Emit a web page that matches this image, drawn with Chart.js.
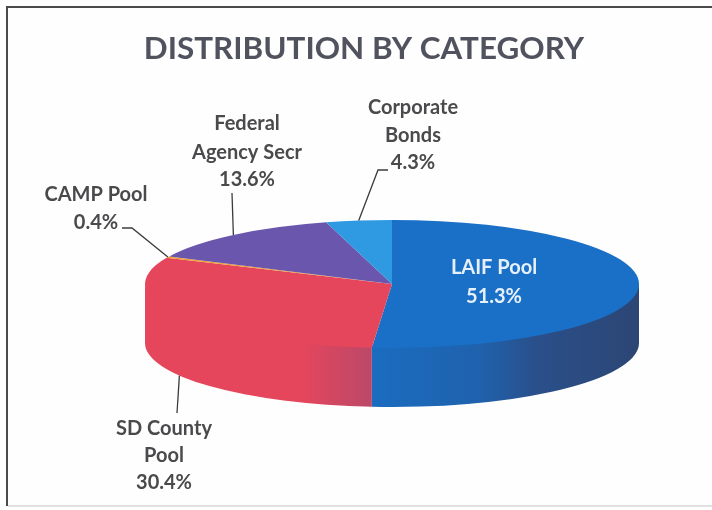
<!DOCTYPE html>
<html>
<head>
<meta charset="utf-8">
<title>Distribution by category</title>
<script src="https://cdn.jsdelivr.net/npm/chart.js@4"></script>
<style>
  html, body { margin: 0; padding: 0; background: #fff; }
  canvas { display: block; }
</style>
</head>
<body>
<canvas id="pie-chart" width="712" height="510"></canvas>
<script>
const categories = ["LAIF Pool", "SD County Pool", "CAMP Pool", "Federal Agency Secr", "Corporate Bonds"];
const shares = [51.3, 30.4, 0.4, 13.6, 4.3];
const sliceColors = ["#1a6fc6", "#e6465c", "#f0a22e", "#6b56ae", "#2f9ae2"];

// where the flattened pie sits on the page
const pie = { cx: 392, cy: 284, rx: 247, ry: 64, depth: 59 };

// label text blocks; y = page y of each text line, leader = bend points from the label to the slice
const labels = [
    { lines: ["LAIF Pool", "51.3%"], x: 494, y: [268, 297], color: "#e6f0fa" },
    { lines: ["SD County", "Pool", "30.4%"], x: 164, y: [429, 456, 483], leader: [[177, 413]], front: true },
    { lines: ["CAMP Pool", "0.4%"], x: 96, y: [195, 223], leader: [[122, 228], [132, 228]] },
    { lines: ["Federal", "Agency Secr", "13.6%"], x: 247, y: [124, 153, 180], leader: [[232, 193]] },
    { lines: ["Corporate", "Bonds", "4.3%"], x: 413, y: [108, 136, 163], leader: [[388, 170], [378, 170]] }
];

const sideStops = [
    [[0, "#1a6cc0"], [0.4, "#1f62ad"], [0.62, "#2a4f8a"], [1, "#2c4674"]],
    [[0, "#e6465c"], [0.68, "#e6465c"], [1, "#bb4868"]]
];

const pie3d = {
    id: 'pie3d',
    beforeDraw(chart) {
        const ctx = chart.ctx;
        ctx.save();
        ctx.fillStyle = '#fefefe';
        ctx.fillRect(0, 0, 712, 510);
        // frame of the scanned chart
        ctx.strokeStyle = '#4a4a4a';
        ctx.lineWidth = 2;
        ctx.beginPath();
        ctx.moveTo(7, 506);
        ctx.lineTo(7, 7);
        ctx.lineTo(712, 7);
        ctx.stroke();
        ctx.strokeStyle = '#c4c4c4';
        ctx.lineWidth = 1;
        ctx.beginPath();
        ctx.moveTo(8, 506);
        ctx.lineTo(712, 506);
        ctx.stroke();
        ctx.restore();
    },
    beforeDatasetsDraw(chart) {
        const ctx = chart.ctx;
        const arcs = chart.getDatasetMeta(0).data;
        // side wall: only the part of each slice facing the viewer
        arcs.forEach(function (arc, i) {
            const from = Math.max(arc.startAngle, 0);
            const to = Math.min(arc.endAngle, Math.PI);
            if (from >= to || !sideStops[i]) return;
            const x0 = pie.cx + pie.rx * Math.cos(to);
            const x1 = pie.cx + pie.rx * Math.cos(from);
            const grad = ctx.createLinearGradient(x0, 0, x1, 0);
            sideStops[i].forEach(function (s) { grad.addColorStop(s[0], s[1]); });
            ctx.fillStyle = grad;
            ctx.beginPath();
            // upper edge tucked under the top face so no pale seam shows
            ctx.ellipse(pie.cx, pie.cy - 2, pie.rx, pie.ry, 0, from, to);
            ctx.ellipse(pie.cx, pie.cy + pie.depth, pie.rx, pie.ry, 0, to, from, true);
            ctx.closePath();
            ctx.fill();
        });
        // the top face goes through the library, squashed into the ellipse
        const first = arcs[0];
        ctx.save();
        ctx.translate(pie.cx, pie.cy);
        ctx.scale(pie.rx / first.outerRadius, pie.ry / first.outerRadius);
        ctx.translate(-first.x, -first.y);
    },
    afterDatasetsDraw(chart) {
        const ctx = chart.ctx;
        const arcs = chart.getDatasetMeta(0).data;
        ctx.restore();

        ctx.font = 'bold 20px Lato';
        ctx.textAlign = 'center';
        ctx.textBaseline = 'middle';
        labels.forEach(function (label, i) {
            if (label.leader) {
                const mid = (arcs[i].startAngle + arcs[i].endAngle) / 2;
                const ax = pie.cx + pie.rx * Math.cos(mid);
                const ay = pie.cy + pie.ry * Math.sin(mid) + (label.front ? pie.depth : 0);
                ctx.strokeStyle = '#3c3c3c';
                ctx.lineWidth = 1.3;
                ctx.beginPath();
                ctx.moveTo(ax, ay);
                label.leader.slice().reverse().forEach(function (p) { ctx.lineTo(p[0], p[1]); });
                ctx.stroke();
            }
            ctx.fillStyle = label.color || '#4a4a4c';
            label.lines.forEach(function (text, n) {
                ctx.fillText(text, label.x, label.y[n]);
            });
        });
    }
};

new Chart(document.getElementById("pie-chart"), {
    type: 'pie',
    data: {
        labels: categories,
        datasets: [{
            data: shares,
            backgroundColor: sliceColors,
            borderWidth: 0,
            clip: false
        }]
    },
    options: {
        responsive: false,
        animation: false,
        events: [],
        layout: { padding: { left: 16 } },
        plugins: {
            legend: { display: false },
            tooltip: { enabled: false },
            title: {
                display: true,
                text: 'DISTRIBUTION BY CATEGORY',
                color: '#50525e',
                font: { family: 'Lato', size: 31.4, weight: 'bold' },
                padding: { top: 30, bottom: 20 }
            }
        }
    },
    plugins: [pie3d]
});
</script>
</body>
</html>
